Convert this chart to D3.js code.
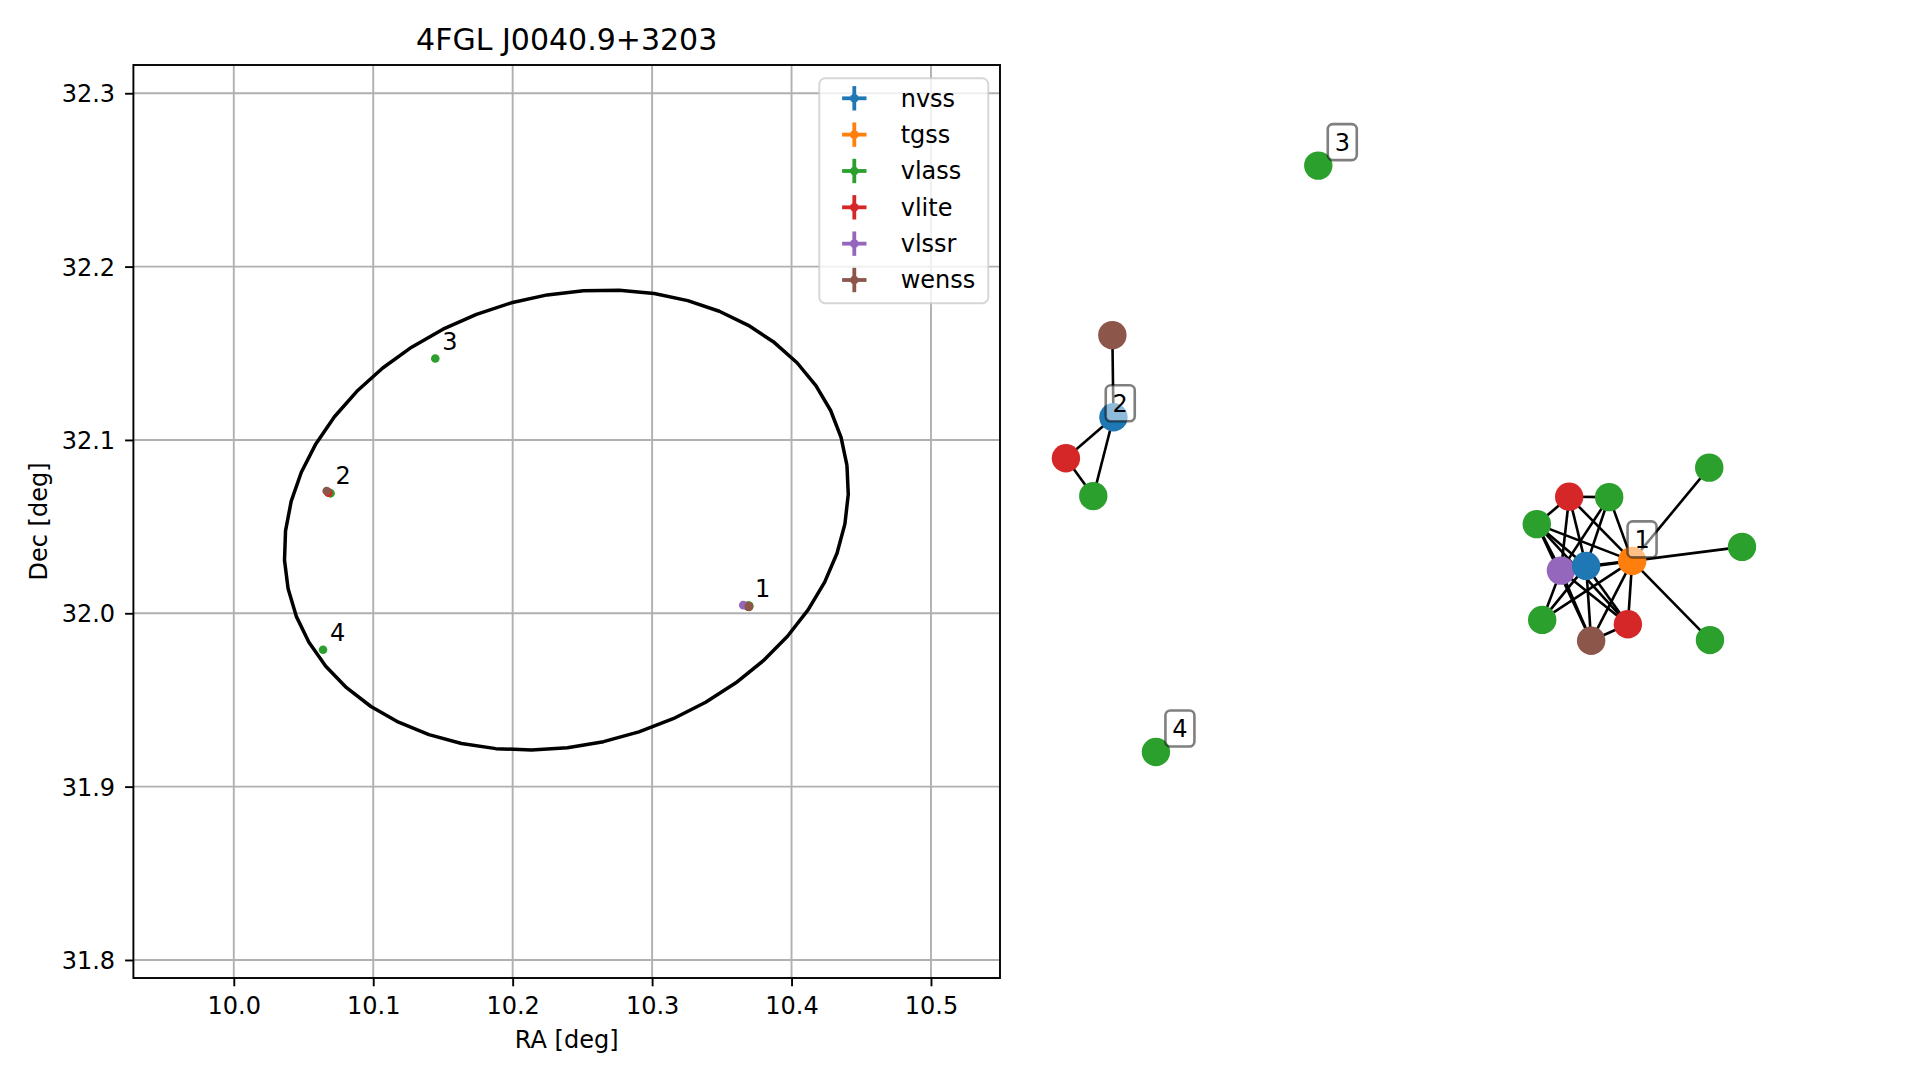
<!DOCTYPE html>
<html>
<head>
<meta charset="utf-8">
<script src="https://cdn.jsdelivr.net/npm/d3@7"></script>
<style>
  html, body { margin: 0; padding: 0; background: #ffffff; }
  svg { display: block; }
  text { font-family: "DejaVu Sans", sans-serif; fill: #000; }
</style>
</head>
<body>
<script>
// ---------------- DATA ----------------
const title = "4FGL J0040.9+3203";
const catalogs = ["nvss", "tgss", "vlass", "vlite", "vlssr", "wenss"];
const catalogColors = ["#1f77b4", "#ff7f0e", "#2ca02c", "#d62728", "#9467bd", "#8c564b"];

const xTicks = [10.0, 10.1, 10.2, 10.3, 10.4, 10.5];
const yTicks = [31.8, 31.9, 32.0, 32.1, 32.2, 32.3];
const xDomain = [9.928, 10.5495];
const yDomain = [31.7896, 32.3163];

// per-catalogue source positions (deg), errors (deg), cluster id
const nvssRA = [10.3680, 10.0680];
const nvssDec = [32.0042, 32.0698];
const nvssErr = [0.0004, 0.0004];
const nvssCluster = [1, 2];

const tgssRA = [10.3685];
const tgssDec = [32.0043];
const tgssErr = [0.0006];
const tgssCluster = [1];

const vlassRA = [10.3692, 10.3690, 10.3688, 10.3695, 10.3697, 10.3694, 10.0694, 10.1445, 10.0640];
const vlassDec = [32.0040, 32.0044, 32.0041, 32.0039, 32.0043, 32.0036, 32.0692, 32.1470, 31.9790];
const vlassErr = [0.0001, 0.0001, 0.0001, 0.0001, 0.0001, 0.0001, 0.0001, 0.0001, 0.0001];
const vlassCluster = [1, 1, 1, 1, 1, 1, 2, 3, 4];

const vliteRA = [10.3690, 10.3694, 10.0678];
const vliteDec = [32.0041, 32.0038, 32.0695];
const vliteErr = [0.0005, 0.0005, 0.0005];
const vliteCluster = [1, 1, 2];

const vlssrRA = [10.3654];
const vlssrDec = [32.0047];
const vlssrErr = [0.0010];
const vlssrCluster = [1];

const wenssRA = [10.3693, 10.0666];
const wenssDec = [32.0040, 32.0705];
const wenssErr = [0.0008, 0.0008];
const wenssCluster = [1, 2];

// 95% error ellipse of the 4FGL source (data-space deg)
const ellipseCenter = [10.2385, 32.0538];
const ellipseSemiMajor = 0.2037;
const ellipseSemiMinor = 0.1305;
const ellipseAngleDeg = 8.9;
const ellipseSamples = 50;

const labelOffsetDeg = 0.005;

// association graph (layout coordinates)
const nodeCatalog = ["vlite","vlass","vlass","vlssr","nvss","tgss","vlass","wenss","vlite","vlass","vlass","vlass",
                     "wenss","nvss","vlite","vlass",
                     "vlass",
                     "vlass"];
const nodeCluster = [1,1,1,1,1,1,1,1,1,1,1,1, 2,2,2,2, 3, 4];
const nodeX = [0.470, 0.581, 0.380, 0.447, 0.517, 0.645, 0.395, 0.531, 0.633, 0.859, 0.950, 0.861,
               -0.799, -0.796, -0.928, -0.852,
               -0.227,
               -0.678];
const nodeY = [-0.130, -0.131, -0.206, -0.335, -0.322, -0.308, -0.472, -0.530, -0.484, -0.049, -0.269, -0.528,
               0.319, 0.091, -0.023, -0.128,
               0.790,
               -0.839];
const edgeSource = [0,0,0,0,0, 1,1,1, 2,2,2,2,2, 3,3,3,3,3, 4,4,4,4, 5,5,5,5,5,5, 7, 12,13,13,14];
const edgeTarget = [1,2,3,4,5, 3,4,5, 3,4,5,8,7, 4,5,6,7,8, 5,6,7,8, 6,7,8,9,10,11, 8, 13,14,15,15];

// ---------------- DRAWING ----------------
const W = 1919, H = 1080;
const FS = 24;
const svg = d3.select("body").append("svg").attr("width", W).attr("height", H);
svg.append("rect").attr("width", W).attr("height", H).attr("fill", "#fff");

const plot = { left: 133.4, right: 1000, top: 65, bottom: 978 };
const x = d3.scaleLinear().domain(xDomain).range([plot.left, plot.right]);
const y = d3.scaleLinear().domain(yDomain).range([plot.bottom, plot.top]);
const colorOf = d3.scaleOrdinal().domain(catalogs).range(catalogColors);

svg.append("clipPath").attr("id", "clip").append("rect")
  .attr("x", plot.left).attr("y", plot.top)
  .attr("width", plot.right - plot.left).attr("height", plot.bottom - plot.top);

// grid
const grid = svg.append("g");
grid.selectAll("line.gx").data(xTicks).join("line")
  .attr("x1", d => x(d)).attr("x2", d => x(d))
  .attr("y1", plot.top).attr("y2", plot.bottom)
  .attr("stroke", "#b0b0b0").attr("stroke-width", 1.9);
grid.selectAll("line.gy").data(yTicks).join("line")
  .attr("y1", d => y(d)).attr("y2", d => y(d))
  .attr("x1", plot.left).attr("x2", plot.right)
  .attr("stroke", "#b0b0b0").attr("stroke-width", 1.9);

// axes
const xAxis = d3.axisBottom(x).tickValues(xTicks).tickFormat(d3.format(".1f"))
  .tickSizeInner(8.3).tickSizeOuter(0).tickPadding(10.5);
const yAxis = d3.axisLeft(y).tickValues(yTicks).tickFormat(d3.format(".1f"))
  .tickSizeInner(8.3).tickSizeOuter(0).tickPadding(10);
const gx = svg.append("g").attr("transform", `translate(0,${plot.bottom})`).call(xAxis);
const gy = svg.append("g").attr("transform", `translate(${plot.left},0)`).call(yAxis);
[gx, gy].forEach(g => {
  g.select(".domain").remove();
  g.selectAll(".tick line").attr("stroke", "#000").attr("stroke-width", 1.9);
  g.selectAll(".tick text").attr("font-size", FS).attr("font-family", "DejaVu Sans").attr("fill", "#000");
});
gy.selectAll(".tick text").attr("dy", "0.36em");

// data layer
const data = svg.append("g").attr("clip-path", "url(#clip)");

// ellipse
const th = ellipseAngleDeg * Math.PI / 180;
const ellipsePts = d3.range(ellipseSamples).map(i => {
  const t = 2 * Math.PI * i / (ellipseSamples - 1);
  const ex = ellipseSemiMajor * Math.cos(t), ey = ellipseSemiMinor * Math.sin(t);
  return [ellipseCenter[0] + ex * Math.cos(th) - ey * Math.sin(th),
          ellipseCenter[1] + ex * Math.sin(th) + ey * Math.cos(th)];
});
data.append("path")
  .attr("d", d3.line().x(d => x(d[0])).y(d => y(d[1]))(ellipsePts))
  .attr("fill", "none").attr("stroke", "#000").attr("stroke-width", 3.5)
  .attr("stroke-linejoin", "round");

const sets = [
  { cat: "nvss", ra: nvssRA, dec: nvssDec, err: nvssErr, cl: nvssCluster },
  { cat: "tgss", ra: tgssRA, dec: tgssDec, err: tgssErr, cl: tgssCluster },
  { cat: "vlass", ra: vlassRA, dec: vlassDec, err: vlassErr, cl: vlassCluster },
  { cat: "vlite", ra: vliteRA, dec: vliteDec, err: vliteErr, cl: vliteCluster },
  { cat: "vlssr", ra: vlssrRA, dec: vlssrDec, err: vlssrErr, cl: vlssrCluster },
  { cat: "wenss", ra: wenssRA, dec: wenssDec, err: wenssErr, cl: wenssCluster },
];
const allPts = [];
sets.forEach(s => {
  const c = colorOf(s.cat);
  const pts = s.ra.map((r, i) => ({ ra: r, dec: s.dec[i], err: s.err[i], cl: s.cl[i] }));
  pts.forEach(p => allPts.push(p));
  const g = data.append("g");
  g.selectAll("line.ex").data(pts).join("line")
    .attr("x1", d => x(d.ra - d.err)).attr("x2", d => x(d.ra + d.err))
    .attr("y1", d => y(d.dec)).attr("y2", d => y(d.dec))
    .attr("stroke", c).attr("stroke-width", 3.5);
  g.selectAll("line.ey").data(pts).join("line")
    .attr("x1", d => x(d.ra)).attr("x2", d => x(d.ra))
    .attr("y1", d => y(d.dec - d.err)).attr("y2", d => y(d.dec + d.err))
    .attr("stroke", c).attr("stroke-width", 3.5);
  g.selectAll("circle").data(pts).join("circle")
    .attr("cx", d => x(d.ra)).attr("cy", d => y(d.dec)).attr("r", 4.3)
    .attr("fill", c);
});

// cluster labels in the sky plot
const clusters = d3.groups(allPts, d => d.cl).sort((a, b) => a[0] - b[0]);
svg.append("g").selectAll("text").data(clusters).join("text")
  .attr("x", d => x(d3.mean(d[1], p => p.ra) + labelOffsetDeg))
  .attr("y", d => y(d3.mean(d[1], p => p.dec) + labelOffsetDeg))
  .attr("font-size", FS)
  .text(d => d[0]);

// frame
svg.append("rect")
  .attr("x", plot.left).attr("y", plot.top)
  .attr("width", plot.right - plot.left).attr("height", plot.bottom - plot.top)
  .attr("fill", "none").attr("stroke", "#000").attr("stroke-width", 1.9);

// title and labels
svg.append("text").attr("x", (plot.left + plot.right) / 2).attr("y", 50)
  .attr("text-anchor", "middle").attr("font-size", 30).text(title);
svg.append("text").attr("x", (plot.left + plot.right) / 2).attr("y", 1047.5)
  .attr("text-anchor", "middle").attr("font-size", FS).text("RA [deg]");
svg.append("text").attr("transform", `translate(47,${(plot.top + plot.bottom) / 2}) rotate(-90)`)
  .attr("text-anchor", "middle").attr("font-size", FS).text("Dec [deg]");

// legend
const leg = svg.append("g");
leg.append("rect").attr("x", 819.3).attr("y", 78.3).attr("width", 169).attr("height", 225)
  .attr("rx", 6).attr("fill", "#fff").attr("fill-opacity", 0.8)
  .attr("stroke", "#cccccc").attr("stroke-opacity", 0.8).attr("stroke-width", 1.9);
const legY = d3.scalePoint().domain(catalogs).range([98.3, 280]);
const items = leg.selectAll("g.item").data(catalogs).join("g")
  .attr("transform", d => `translate(0,${legY(d)})`);
items.append("line").attr("x1", 842.1).attr("x2", 866.5).attr("y1", 0).attr("y2", 0)
  .attr("stroke", d => colorOf(d)).attr("stroke-width", 3.8);
items.append("line").attr("x1", 854.3).attr("x2", 854.3).attr("y1", -12.2).attr("y2", 12.2)
  .attr("stroke", d => colorOf(d)).attr("stroke-width", 3.8);
items.append("circle").attr("cx", 854.3).attr("cy", 0).attr("r", 4.3).attr("fill", d => colorOf(d));
items.append("text").attr("x", 900.7).attr("y", 8.4).attr("font-size", FS).text(d => d);

// ---------------- association graph ----------------
const nx = d3.scaleLinear().domain([-1, 1]).range([1040, 1760]);
const ny = d3.scaleLinear().domain([-1, 1]).range([810, 90]);
const nodes = nodeX.map((vx, i) => ({ i, px: nx(vx), py: ny(nodeY[i]), cat: nodeCatalog[i], cl: nodeCluster[i] }));
const edges = edgeSource.map((s, k) => ({ s: nodes[s], t: nodes[edgeTarget[k]] }));

const net = svg.append("g");
net.selectAll("line").data(edges).join("line")
  .attr("x1", d => d.s.px).attr("y1", d => d.s.py)
  .attr("x2", d => d.t.px).attr("y2", d => d.t.py)
  .attr("stroke", "#000").attr("stroke-width", 2.6);
net.selectAll("circle").data(nodes).join("circle")
  .attr("cx", d => d.px).attr("cy", d => d.py).attr("r", 14.2)
  .attr("fill", d => colorOf(d.cat));

const netClusters = d3.groups(nodes, d => d.cl).sort((a, b) => a[0] - b[0]);
const lab = net.selectAll("g.lab").data(netClusters).join("g")
  .attr("transform", d => `translate(${d3.mean(d[1], n => n.px) + 24},${d3.mean(d[1], n => n.py) - 23.5})`);
lab.append("rect").attr("x", -14.5).attr("y", -18).attr("width", 29).attr("height", 36).attr("rx", 5)
  .attr("fill", "#fff").attr("fill-opacity", 0.5)
  .attr("stroke", "#000").attr("stroke-opacity", 0.5).attr("stroke-width", 2.6);
lab.append("text").attr("x", 0).attr("y", 8.7).attr("text-anchor", "middle")
  .attr("font-size", FS).text(d => d[0]);
</script>
</body>
</html>
